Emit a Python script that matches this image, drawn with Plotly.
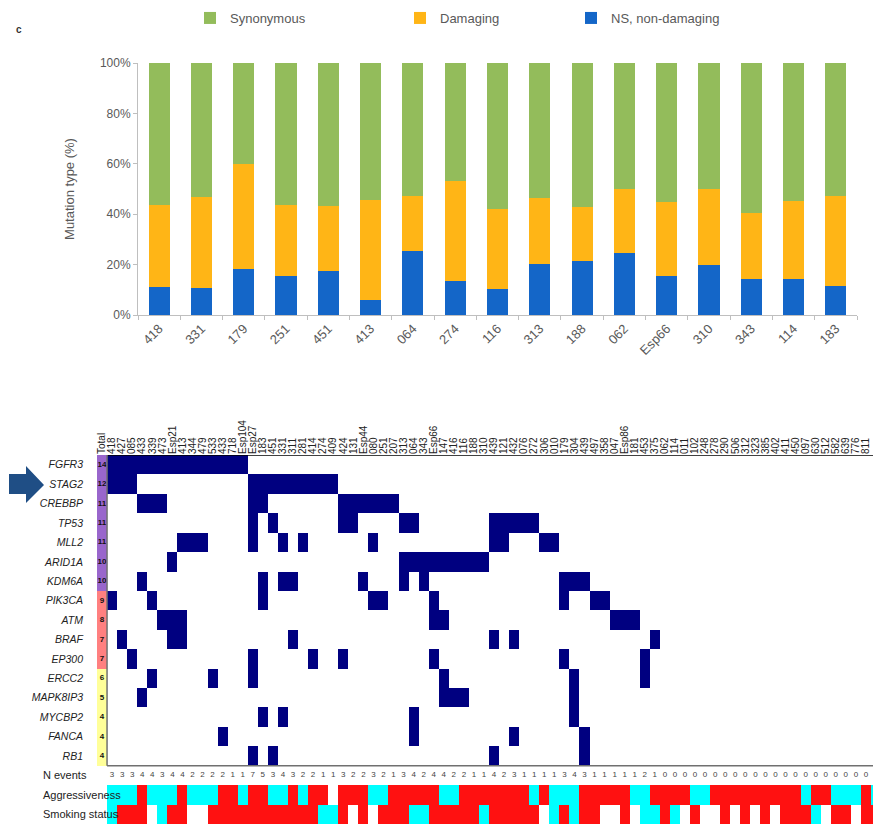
import plotly.graph_objects as go

# ---------------- top chart data ----------------
bar_samples = ["418", "331", "179", "251", "451", "413", "064", "274", "116",
               "313", "188", "062", "Esp66", "310", "343", "114", "183"]
ns_nondamaging = [11.2, 10.8, 18.3, 15.5, 17.5, 6.0, 25.4, 13.6, 10.2,
                  20.4, 21.4, 24.7, 15.5, 19.8, 14.3, 14.2, 11.4]
damaging = [32.5, 36.2, 41.6, 28.3, 25.8, 39.6, 22.0, 39.6, 31.8,
            25.9, 21.5, 25.3, 29.5, 30.2, 26.3, 31.2, 36.0]
synonymous = [56.3, 53.0, 40.1, 56.2, 56.7, 54.4, 52.6, 46.8, 58.0,
              53.7, 57.1, 50.0, 55.0, 50.0, 59.4, 54.6, 52.6]
pct_ticks = [0, 20, 40, 60, 80, 100]

# ---------------- bottom chart data ----------------
sample_labels = ["418", "427", "085", "433", "339", "473", "Esp21", "413", "344", "479",
                 "533", "433", "718", "Esp104", "Esp27", "183", "451", "331", "311", "281",
                 "414", "274", "409", "424", "131", "Esp44", "080", "251", "207", "313",
                 "064", "343", "Esp66", "147", "416", "116", "188", "310", "439", "121",
                 "432", "076", "272", "306", "010", "179", "304", "439", "497", "358",
                 "047", "Esp86", "181", "453", "375", "062", "114", "011", "102", "248",
                 "278", "290", "506", "312", "323", "385", "402", "411", "450", "097",
                 "630", "512", "582", "639", "776", "811", "821"]
genes = ["FGFR3", "STAG2", "CREBBP", "TP53", "MLL2", "ARID1A", "KDM6A", "PIK3CA",
         "ATM", "BRAF", "EP300", "ERCC2", "MAPK8IP3", "MYCBP2", "FANCA", "RB1"]
# column indices (0-based, into sample_labels) of samples with a mutation in each gene
mut_FGFR3 = [0, 1, 2, 3, 4, 5, 6, 7, 8, 9, 10, 11, 12, 13]
mut_STAG2 = [0, 1, 2, 14, 15, 16, 17, 18, 19, 20, 21, 22]
mut_CREBBP = [3, 4, 5, 14, 15, 23, 24, 25, 26, 27, 28]
mut_TP53 = [14, 16, 23, 24, 29, 30, 38, 39, 40, 41, 42]
mut_MLL2 = [7, 8, 9, 14, 17, 19, 26, 38, 39, 43, 44]
mut_ARID1A = [6, 29, 30, 31, 32, 33, 34, 35, 36, 37]
mut_KDM6A = [3, 15, 17, 18, 25, 29, 31, 45, 46, 47]
mut_PIK3CA = [0, 4, 15, 26, 27, 32, 45, 48, 49]
mut_ATM = [5, 6, 7, 32, 33, 50, 51, 52]
mut_BRAF = [1, 6, 7, 18, 38, 40, 54]
mut_EP300 = [2, 14, 20, 23, 32, 45, 53]
mut_ERCC2 = [4, 10, 14, 33, 46, 53]
mut_MAPK8IP3 = [3, 33, 34, 35, 46]
mut_MYCBP2 = [15, 17, 30, 46]
mut_FANCA = [11, 30, 40, 47]
mut_RB1 = [14, 16, 38, 47]
gene_mutations = [mut_FGFR3, mut_STAG2, mut_CREBBP, mut_TP53, mut_MLL2, mut_ARID1A,
                  mut_KDM6A, mut_PIK3CA, mut_ATM, mut_BRAF, mut_EP300, mut_ERCC2,
                  mut_MAPK8IP3, mut_MYCBP2, mut_FANCA, mut_RB1]
# c = cyan, r = red, w = white (no data)
aggressiveness = list("cccrcccrcccrrcrrccrcrrwrrrccrrrrrccrrrrrrrcrcccrrrrrccrrrrccrrrrrrrrrcrrcccrc")
smoking_status = list("crrrwcrrwwrrrrrrrrrrrccrwrwrrrccrrrrrcrrrrrwcrcrrwwrwccrcwrwwrwrwrwrrrcwrrwrr")
row_labels_extra = ["N events", "Aggressiveness", "Smoking status"]

# ---------------- styling ----------------
# the page body has an 8px margin, so the figure is placed at (8, 8) in the window
OFF = 8
W, H = 881 - OFF, 824 - OFF
FONT = "Liberation Sans, Arial, sans-serif"
GREY = "#595959"
AXIS_GREY = "#bfbfbf"


def px(x):
    """window pixel x -> paper fraction"""
    return (x - OFF) / W


def py(y):
    """window pixel y -> paper fraction"""
    return 1 - (y - OFF) / H


fig = go.Figure()

# ----- stacked bars -----
series = [
    ("NS, non-damaging", ns_nondamaging, "#1466c8", "legend3"),
    ("Damaging", damaging, "#ffb516", "legend2"),
    ("Synonymous", synonymous, "#93bc5b", "legend"),
]
for name, vals, col, lg in series:
    fig.add_trace(go.Bar(
        x=bar_samples, y=vals, name=name, legend=lg,
        marker=dict(color=col, line=dict(width=0)),
        xaxis="x", yaxis="y", hoverinfo="x+y+name",
    ))

# ----- mutation matrix -----
n_cols = len(sample_labels)
n_rows = len(genes) + 3
code_colors = ["#ffffff", "#000080", "#00ffff", "#ff1111", "#9966cc", "#ff8080", "#ffff99"]
ncode = len(code_colors)
colorscale = []
for i, c in enumerate(code_colors):
    colorscale.append([i / ncode, c])
    colorscale.append([(i + 1) / ncode, c])

totals = [len(m) for m in gene_mutations]
z = [[None] * (n_cols + 1) for _ in range(n_rows)]
for r, muts in enumerate(gene_mutations):
    t = totals[r]
    z[r][0] = 4 if t >= 10 else (5 if t >= 7 else 6)
    for c in range(n_cols):
        z[r][c + 1] = 1 if c in muts else 0
status_code = {"c": 2, "r": 3, "w": 0}
for c in range(n_cols):
    z[len(genes) + 1][c + 1] = status_code[aggressiveness[c]]
    z[len(genes) + 2][c + 1] = status_code[smoking_status[c]]

x_cells = [-1] + list(range(n_cols))
y_cells = list(range(n_rows))
fig.add_trace(go.Heatmap(
    x=x_cells, y=y_cells, z=z, colorscale=colorscale, zmin=-0.5, zmax=ncode - 0.5,
    showscale=False, xaxis="x2", yaxis="y2", hoverinfo="skip", xgap=0, ygap=0,
))

# totals text
fig.add_trace(go.Scatter(
    x=[-1] * len(genes), y=list(range(len(genes))), mode="text",
    text=[f"<b>{t}</b>" for t in totals],
    textfont=dict(size=8, color="#111111", family=FONT),
    xaxis="x2", yaxis="y2", showlegend=False, hoverinfo="skip",
))
# N events
n_events = [sum(1 for m in gene_mutations if c in m) for c in range(n_cols)]
fig.add_trace(go.Scatter(
    x=list(range(n_cols)), y=[len(genes)] * n_cols, mode="text",
    text=[str(v) for v in n_events],
    textfont=dict(size=8, color="#444444", family=FONT),
    xaxis="x2", yaxis="y2", showlegend=False, hoverinfo="skip",
))

# ----- layout -----
legend_common = dict(orientation="h", yanchor="top", bgcolor="rgba(0,0,0,0)",
                     font=dict(size=13, color=GREY, family=FONT), itemclick=False)
fig.update_layout(
    width=W, height=H, margin=dict(l=0, r=0, t=0, b=0, autoexpand=False),
    paper_bgcolor="white", plot_bgcolor="white",
    barmode="stack", bargap=0.5,
    font=dict(family=FONT, color=GREY),
    legend=dict(x=px(190), y=py(3), **legend_common),
    legend2=dict(x=px(400), y=py(3), **legend_common),
    legend3=dict(x=px(571), y=py(3), **legend_common),
    xaxis=dict(
        domain=[px(138), px(857)], anchor="y", type="category", automargin=False,
        tickangle=-45, tickfont=dict(size=13, color=GREY),
        showline=True, linecolor=AXIS_GREY, linewidth=1,
        ticks="outside", tickson="boundaries", ticklen=4, tickcolor=AXIS_GREY,
        showgrid=False, zeroline=False,
    ),
    yaxis=dict(
        domain=[py(315), py(63)], anchor="x", range=[0, 100], automargin=False,
        tickvals=pct_ticks, ticktext=[f"{v}%" for v in pct_ticks],
        tickfont=dict(size=12, color=GREY),
        showline=True, linecolor=AXIS_GREY, linewidth=1,
        ticks="outside", ticklen=4, tickcolor=AXIS_GREY,
        showgrid=False, zeroline=False,
        title=dict(text="Mutation type (%)", font=dict(size=13, color=GREY), standoff=22),
    ),
    xaxis2=dict(
        domain=[px(97), 1], anchor="y2", range=[-1.5, n_cols - 0.5], side="top",
        automargin=False,
        tickvals=x_cells, ticktext=["Total"] + sample_labels, tickangle=-90,
        tickfont=dict(size=10, color="#222222", family=FONT),
        showgrid=False, zeroline=False, ticks="", showline=False,
    ),
    yaxis2=dict(
        domain=[0, py(455)], anchor="x2", range=[n_rows - 0.5, -0.5], automargin=False,
        tickvals=list(range(len(genes))), ticktext=[f"<i>{g}</i>" for g in genes],
        tickfont=dict(size=10.5, color="#222222", family=FONT),
        ticklabelstandoff=13,
        showgrid=False, zeroline=False, ticks="", showline=False,
    ),
)

# border lines of the matrix
shapes = [
    dict(type="line", xref="x2", yref="y2", x0=-0.5, x1=n_cols - 0.5, y0=-0.5, y1=-0.5,
         line=dict(color="#000000", width=1.5)),
    dict(type="line", xref="x2", yref="y2", x0=-0.5, x1=n_cols - 0.5,
         y0=len(genes) - 0.5, y1=len(genes) - 0.5, line=dict(color="#707070", width=1.5)),
    dict(type="line", xref="x2", yref="y2", x0=-0.5, x1=-0.5, y0=-0.5, y1=len(genes) - 0.5,
         line=dict(color="#707070", width=1.5)),
]
# block arrow pointing at STAG2
arrow_pts = [(9, 474), (26, 474), (26, 466), (44, 485), (26, 503), (26, 494), (9, 494)]
path = "M " + " L ".join(f"{px(a):.5f},{py(b):.5f}" for a, b in arrow_pts) + " Z"
shapes.append(dict(type="path", xref="paper", yref="paper", path=path,
                   fillcolor="#1f4e85", line=dict(color="#1f4e85", width=0)))
fig.update_layout(shapes=shapes)

# labels for the extra rows
for i, lab in enumerate(row_labels_extra):
    fig.add_annotation(x=px(41), y=len(genes) + i, xref="paper", yref="y2", text=lab,
                       showarrow=False, xanchor="left", yanchor="middle",
                       font=dict(size=11, color="#222222", family=FONT))
# panel letter
fig.add_annotation(x=px(14), y=py(22), xref="paper", yref="paper", text="<b>c</b>",
                   showarrow=False, font=dict(size=10, color="#333333", family=FONT))

fig.write_html("out.html")
